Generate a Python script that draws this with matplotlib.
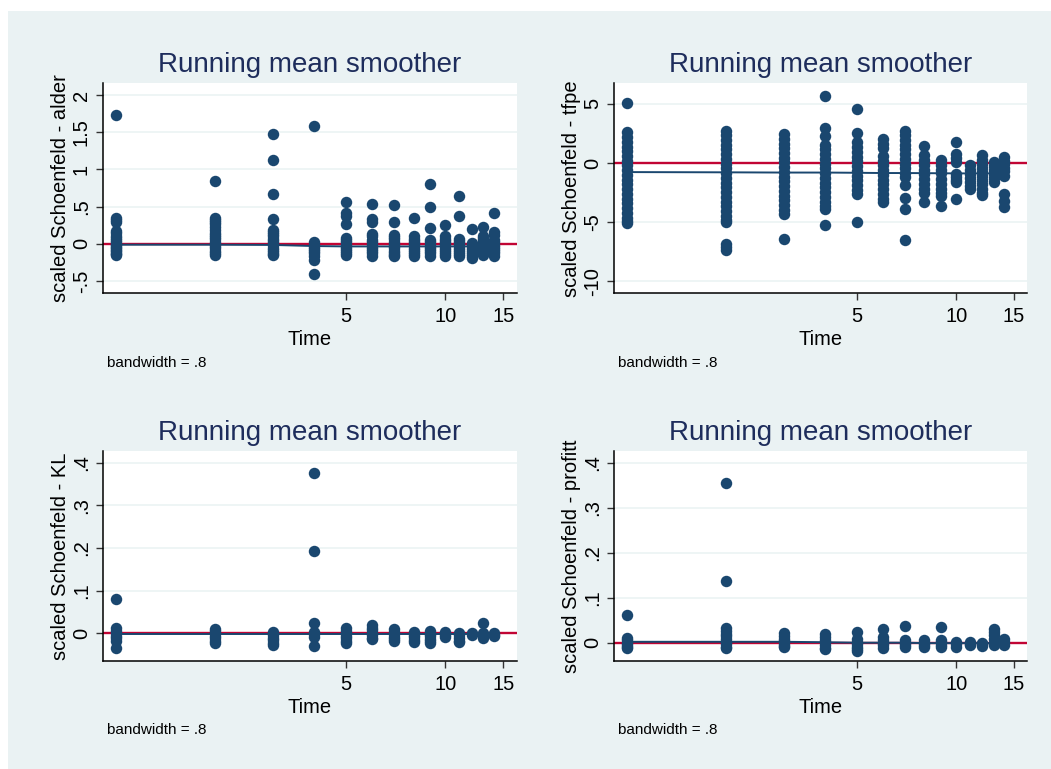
import matplotlib.pyplot as plt
from matplotlib.patches import Rectangle

plt.rcParams['font.family'] = ['Liberation Sans', 'DejaVu Sans']

W, H = 1051, 769

times = [1, 2, 3, 4, 5, 6, 7, 8, 9, 10, 11, 12, 13, 14]

# scaled Schoenfeld residuals, one list per event time
alder = [
    [1.73, 0.35, 0.32, 0.29, 0.17, 0.14, 0.11, 0.08, 0.05, 0.02, 0.0, -0.02, -0.04, -0.06, -0.08, -0.10, -0.12, -0.14, -0.15],
    [0.85, 0.35, 0.32, 0.29, 0.26, 0.22, 0.18, 0.15, 0.12, 0.09, 0.06, 0.03, 0.0, -0.03, -0.06, -0.09, -0.12, -0.15],
    [1.48, 1.13, 0.67, 0.33, 0.19, 0.16, 0.13, 0.10, 0.07, 0.04, 0.01, -0.02, -0.05, -0.08, -0.11, -0.14, -0.15],
    [1.58, 0.02, -0.01, -0.04, -0.07, -0.10, -0.13, -0.17, -0.22, -0.40],
    [0.56, 0.42, 0.38, 0.27, 0.08, 0.05, 0.02, -0.01, -0.04, -0.07, -0.10, -0.13, -0.15],
    [0.53, 0.33, 0.29, 0.13, 0.10, 0.05, 0.02, -0.01, -0.04, -0.07, -0.10, -0.13, -0.16],
    [0.52, 0.29, 0.12, 0.09, 0.06, 0.03, 0.0, -0.03, -0.06, -0.09, -0.12, -0.15, -0.17],
    [0.35, 0.10, 0.07, 0.04, 0.01, -0.02, -0.05, -0.08, -0.11, -0.14, -0.16],
    [0.80, 0.50, 0.21, 0.05, 0.02, -0.01, -0.04, -0.07, -0.10, -0.13, -0.16],
    [0.25, 0.10, 0.07, 0.04, 0.01, -0.02, -0.05, -0.08, -0.11, -0.14, -0.16],
    [0.64, 0.37, 0.07, 0.04, 0.01, -0.02, -0.05, -0.08, -0.11, -0.14, -0.17],
    [0.20, 0.01, -0.02, -0.05, -0.08, -0.11, -0.14, -0.17, -0.19],
    [0.22, 0.10, 0.08, 0.05, 0.02, -0.01, -0.04, -0.07, -0.10, -0.13, -0.15],
    [0.41, 0.16, 0.12, 0.05, 0.02, -0.01, -0.04, -0.07, -0.10, -0.13, -0.16],
]
alder_smooth = [-0.012, -0.012, -0.015, -0.03, -0.035, -0.035, -0.035, -0.035,
                -0.035, -0.035, -0.035, -0.035, -0.035, -0.035]

tfpe = [
    [5.05, 2.6, 2.2, 1.8, 1.4, 1.0, 0.6, 0.2, -0.2, -0.6, -1.0, -1.4, -1.8, -2.2,
     -2.6, -3.0, -3.4, -3.8, -4.2, -4.6, -4.9, -5.1],
    [2.75, 2.35, 1.95, 1.55, 1.15, 0.75, 0.35, -0.05, -0.45, -0.85, -1.25, -1.65,
     -2.05, -2.45, -2.85, -3.25, -3.65, -4.05, -4.45, -4.8, -4.97, -6.85, -7.1, -7.3],
    [2.45, 2.05, 1.65, 1.25, 0.85, 0.45, 0.05, -0.35, -0.75, -1.15, -1.55, -1.95,
     -2.35, -2.75, -3.15, -3.55, -3.95, -4.26, -6.4],
    [5.7, 2.95, 2.3, 1.55, 1.15, 0.75, 0.35, -0.05, -0.45, -0.85, -1.25, -1.65,
     -2.05, -2.45, -2.85, -3.25, -3.6, -3.84, -5.2],
    [4.58, 2.55, 1.75, 1.35, 0.95, 0.55, 0.15, -0.25, -0.65, -1.05, -1.45, -1.85,
     -2.25, -2.58, -4.97],
    [2.05, 1.65, 1.25, 0.6, 0.2, -0.2, -0.6, -1.0, -1.4, -1.8, -2.2, -2.6, -3.0, -3.3],
    [2.75, 2.35, 1.95, 1.55, 1.15, 0.75, 0.35, -0.05, -0.45, -0.85, -1.18, -1.88,
     -2.92, -3.9, -6.5],
    [1.43, 0.65, 0.25, -0.15, -0.55, -0.95, -1.35, -1.75, -2.15, -2.5, -3.28],
    [0.23, -0.15, -0.55, -0.85, -1.35, -1.75, -2.15, -2.55, -2.75, -3.65],
    [1.77, 0.8, 0.4, 0.1, -0.9, -1.2, -1.46, -1.6, -3.06],
    [-0.2, -0.55, -0.9, -1.25, -1.6, -1.95, -2.16],
    [0.65, 0.3, -0.05, -0.4, -0.75, -1.1, -1.45, -1.8, -2.15, -2.5, -2.72],
    [0.08, -0.25, -0.6, -0.95, -1.3, -1.6],
    [0.5, 0.2, -0.1, -0.4, -0.7, -1.05, -2.6, -3.2, -3.75],
]
tfpe_smooth = [-0.76, -0.78, -0.80, -0.80, -0.82, -0.84, -0.84, -0.85, -0.86,
               -0.87, -0.87, -0.87, -0.87, -0.87]

kl = [
    [0.08, 0.012, 0.006, 0.0, -0.006, -0.012, -0.018, -0.035],
    [0.011, 0.005, 0.0, -0.006, -0.012, -0.018, -0.022],
    [0.003, -0.003, -0.010, -0.016, -0.022, -0.028],
    [0.375, 0.192, 0.025, 0.004, -0.002, -0.008, -0.03],
    [0.012, 0.006, 0.0, -0.006, -0.012, -0.018, -0.022],
    [0.019, 0.013, 0.007, 0.001, -0.005, -0.011, -0.014],
    [0.010, 0.004, -0.002, -0.008, -0.014, -0.018],
    [0.003, -0.003, -0.009, -0.015, -0.020],
    [0.005, -0.001, -0.007, -0.013, -0.019, -0.023],
    [0.003, -0.003, -0.008],
    [0.001, -0.005, -0.011, -0.017, -0.020],
    [0.0, -0.003],
    [0.023, 0.0, -0.005, -0.010],
    [0.0, -0.003, -0.006],
]
kl_smooth = [-0.001] * 14

profitt = [
    [0.062, 0.010, 0.005, 0.0, -0.005, -0.010, -0.012],
    [0.355, 0.138, 0.032, 0.026, 0.020, 0.014, 0.008, 0.002, -0.004, -0.010, -0.012],
    [0.021, 0.015, 0.009, 0.003, -0.003, -0.008, -0.010],
    [0.019, 0.013, 0.007, 0.001, -0.005, -0.011, -0.015],
    [0.024, 0.008, 0.002, -0.004, -0.010, -0.015, -0.018],
    [0.030, 0.012, 0.006, 0.0, -0.006, -0.012],
    [0.036, 0.006, 0.0, -0.006, -0.010],
    [0.006, 0.0, -0.006, -0.010],
    [0.034, 0.007, 0.001, -0.005, -0.010],
    [0.002, -0.004, -0.010],
    [0.002, -0.002, -0.005],
    [0.0, -0.004, -0.008],
    [0.030, 0.024, 0.016, 0.008, 0.0, -0.006],
    [0.008, 0.002, -0.005],
]
profitt_smooth = [0.002, 0.002, 0.002, 0.001, 0.0, 0.0, 0.0, -0.001, -0.001,
                  -0.001, -0.001, -0.001, -0.001, -0.001]

panels = [alder, tfpe, kl, profitt]
smooths = [alder_smooth, tfpe_smooth, kl_smooth, profitt_smooth]
ylabels = ['scaled Schoenfeld - alder', 'scaled Schoenfeld - tfpe',
           'scaled Schoenfeld - KL', 'scaled Schoenfeld - profitt']
yticks = [[-0.5, 0, 0.5, 1, 1.5, 2], [-10, -5, 0, 5],
          [0, 0.1, 0.2, 0.3, 0.4], [0, 0.1, 0.2, 0.3, 0.4]]
ytlabels = [['-.5', '0', '.5', '1', '1.5', '2'], ['-10', '-5', '0', '5'],
            ['0', '.1', '.2', '.3', '.4'], ['0', '.1', '.2', '.3', '.4']]
ylims = [(-0.665, 2.157), (-11.0, 6.74), (-0.065, 0.428), (-0.0407, 0.4267)]
xticks = [5, 10, 15]

# axes boxes in pixels: left, top, width, height
boxes = [(103.3, 83.3, 413.4, 210), (614.3, 83.3, 413, 210),
         (103.3, 450.7, 413.4, 210.3), (614.3, 450.7, 413, 210.3)]

bg = '#eaf2f3'
navy = '#1a476f'
red = '#c10534'

fig = plt.figure(figsize=(W / 100, H / 100), dpi=100, facecolor='white')
fig.patches.append(Rectangle((8 / W, 0), 1 - 8 / W, 1 - 11 / H,
                             transform=fig.transFigure, facecolor=bg,
                             edgecolor='none', zorder=-10))

for i in range(4):
    l, t, w, h = boxes[i]
    ax = fig.add_axes([l / W, 1 - (t + h) / H, w / W, h / H])
    ax.set_facecolor('white')
    xs, ys = [], []
    for tm, vals in zip(times, panels[i]):
        xs += [tm] * len(vals)
        ys += vals
    ax.axhline(0, color=red, lw=1.7, zorder=2)
    ax.scatter(xs, ys, s=68, color=navy, linewidths=0, zorder=3)
    ax.plot(times, smooths[i], color=navy, lw=1.4, zorder=4)

    ax.set_xscale('log')
    ax.set_xlim(0.915, 16.45)
    ax.set_xticks(xticks)
    ax.set_xticklabels([str(v) for v in xticks])
    ax.minorticks_off()
    ax.set_ylim(*ylims[i])
    ax.set_yticks(yticks[i])
    ax.set_yticklabels(ytlabels[i], rotation=90, va='center')
    ax.grid(axis='y', color=bg, lw=1.1, zorder=0)
    ax.set_axisbelow(True)

    for s in ['top', 'right']:
        ax.spines[s].set_visible(False)
    for s in ['left', 'bottom']:
        ax.spines[s].set_linewidth(1.1)
        ax.spines[s].set_color('black')
    ax.tick_params(length=5, width=1, color='#333333', labelsize=14.5, pad=4)
    ax.tick_params(axis='x', pad=5)

    ax.set_xlabel('Time', fontsize=14.5, labelpad=3)
    ax.set_ylabel(ylabels[i], fontsize=14.5, labelpad=1)
    ax.set_title('Running mean smoother', fontsize=20, color='#1e2d5c', pad=8)

    fig.text((l + 3.5) / W, 1 - (t + h + 69.4) / H, 'bandwidth = .8',
             fontsize=11, va='center', ha='left')

fig.savefig('out.png', dpi=100, facecolor=fig.get_facecolor())
